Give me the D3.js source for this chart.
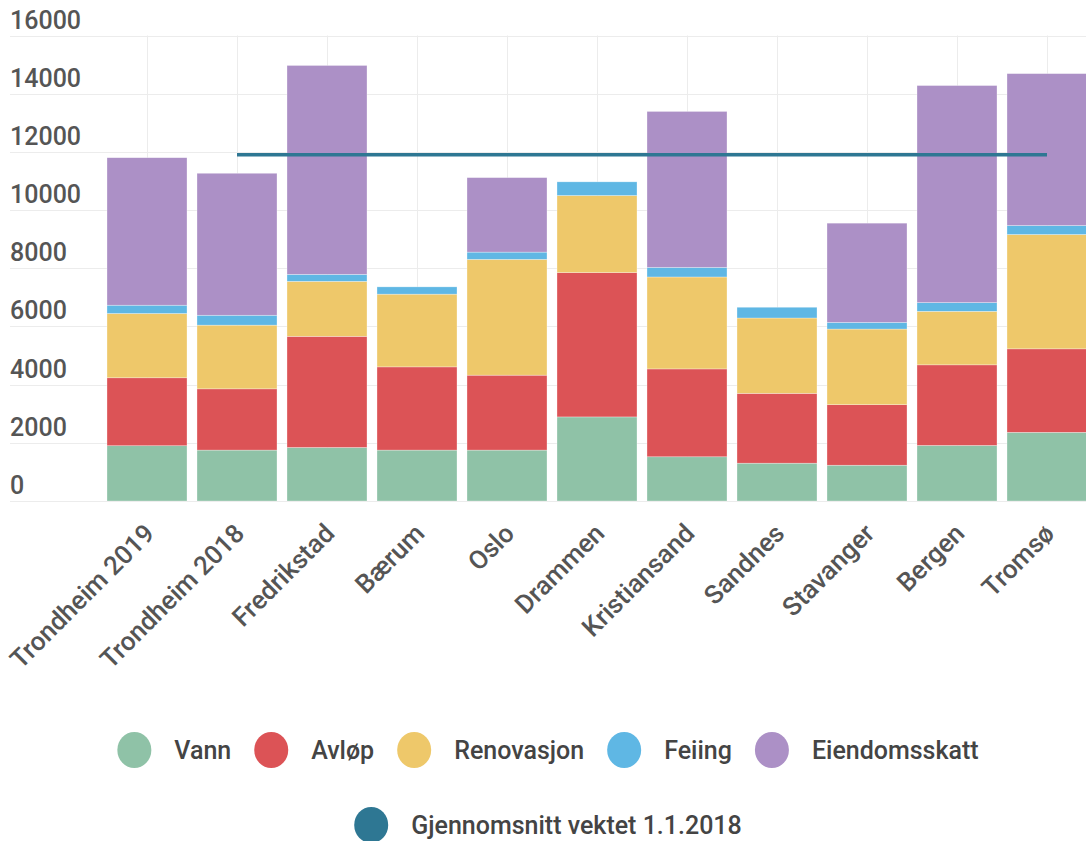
<!DOCTYPE html>
<html>
<head>
<meta charset="utf-8">
<script src="https://cdn.jsdelivr.net/npm/d3@7"></script>
<style>
  body { margin: 0; background: #fff; }
  svg { display: block; font-family: Roboto, "Noto Sans", sans-serif; }
</style>
</head>
<body>
<svg width="1086" height="841"></svg>
<script>
var categories = ["Trondheim 2019", "Trondheim 2018", "Fredrikstad", "Bærum", "Oslo", "Drammen",
                  "Kristiansand", "Sandnes", "Stavanger", "Bergen", "Tromsø"];
var vann          = [1900, 1750, 1840, 1750, 1750, 2890, 1520, 1300, 1230, 1910, 2360];
var avlop         = [2335, 2105, 3820, 2860, 2575, 4960, 3020, 2400, 2080, 2770, 2870];
var renovasjon    = [2210, 2190, 1890, 2500, 3980, 2650, 3160, 2590, 2600, 1840, 3930];
var feiing        = [285, 340, 240, 250, 250, 470, 330, 370, 230, 300, 310];
var eiendomsskatt = [5070, 4880, 7180, 0, 2560, 0, 5360, 0, 3410, 7460, 5220];
var snitt         = [null, 11900, 11900, 11900, 11900, 11900, 11900, 11900, 11900, 11900, 11900];
var yTicks = [0, 2000, 4000, 6000, 8000, 10000, 12000, 14000, 16000];

var seriesNames = ["Vann", "Avløp", "Renovasjon", "Feiing", "Eiendomsskatt"];
var seriesColors = ["#8fc2a7", "#dc5356", "#eec86a", "#5fb7e4", "#ac90c6"];
var lineName = "Gjennomsnitt vektet 1.1.2018";
var lineColor = "#2e7793";

function drawChart()
{
    var svg = d3.select("svg");
    var values = [vann, avlop, renovasjon, feiing, eiendomsskatt];

    // rows for d3.stack
    var rows = categories.map(function (c, i) {
        var r = { kategori: c };
        seriesNames.forEach(function (s, j) { r[s] = values[j][i]; });
        return r;
    });
    var stacked = d3.stack().keys(seriesNames)(rows);

    var xScale = d3.scaleBand()
                    .domain(categories)
                    .range([102, 1092])
                    .paddingInner(0.111)
                    .paddingOuter(0.0555);
    var yScale = d3.scaleLinear()
                    .domain([0, 16000])
                    .range([501, 35.5]);

    // grid
    var grid = svg.append("g");
    grid.selectAll("line.h")
        .data(yTicks)
        .enter()
        .append("line")
        .attr("x1", 10).attr("x2", 1086)
        .attr("y1", function (d) { return Math.round(yScale(d)) + 0.5; })
        .attr("y2", function (d) { return Math.round(yScale(d)) + 0.5; })
        .attr("stroke", "#ececec");
    grid.selectAll("line.v")
        .data(categories)
        .enter()
        .append("line")
        .attr("x1", function (d) { return Math.round(xScale(d) + xScale.bandwidth() / 2) + 0.5; })
        .attr("x2", function (d) { return Math.round(xScale(d) + xScale.bandwidth() / 2) + 0.5; })
        .attr("y1", yScale(16000)).attr("y2", yScale(0))
        .attr("stroke", "#ececec");

    // y labels sit above the grid lines
    svg.append("g")
        .selectAll("text")
        .data(yTicks)
        .enter()
        .append("text")
        .attr("x", 10)
        .attr("y", function (d) { return yScale(d) - 7; })
        .attr("font-size", 25)
        .attr("font-weight", 500)
        .attr("fill", "#555")
        .text(function (d) { return d; });

    // bars
    svg.append("g")
        .selectAll("g")
        .data(stacked)
        .enter()
        .append("g")
        .attr("fill", function (d, i) { return seriesColors[i]; })
        .selectAll("rect")
        .data(function (d) { return d; })
        .enter()
        .append("rect")
        .attr("x", function (d) { return xScale(d.data.kategori); })
        .attr("y", function (d) { return yScale(d[1]); })
        .attr("height", function (d) { return yScale(d[0]) - yScale(d[1]); })
        .attr("width", xScale.bandwidth())
        .attr("stroke", "rgba(255,255,255,0.5)")
        .attr("stroke-width", 0.6);

    // average line
    var line = d3.line()
        .defined(function (d) { return d != null; })
        .x(function (d, i) { return xScale(categories[i]) + xScale.bandwidth() / 2; })
        .y(function (d) { return yScale(d); });
    svg.append("path")
        .attr("d", line(snitt))
        .attr("fill", "none")
        .attr("stroke", lineColor)
        .attr("stroke-width", 3.5);

    // x labels, rotated
    svg.append("g")
        .selectAll("text")
        .data(categories)
        .enter()
        .append("text")
        .attr("transform", function (d) {
            var cx = xScale(d) + xScale.bandwidth() / 2 + 9;
            return "translate(" + cx + ",535) rotate(-45)";
        })
        .attr("text-anchor", "end")
        .attr("font-size", 26)
        .attr("font-weight", 500)
        .attr("fill", "#555")
        .text(function (d) { return d; });

    // legend
    drawLegendRow(svg, seriesNames, seriesColors, 750, 548);
    drawLegendRow(svg, [lineName], [lineColor], 825, 548);
}

function drawLegendRow(svg, names, colors, cy, centerX)
{
    var row = svg.append("g");
    var items = row.selectAll("g")
        .data(names)
        .enter()
        .append("g");
    items.append("ellipse")
        .attr("rx", 17).attr("ry", 18)
        .attr("cy", cy)
        .attr("fill", function (d, i) { return colors[i]; });
    items.append("text")
        .attr("y", cy + 9)
        .attr("font-size", 25)
        .attr("font-weight", 500)
        .attr("fill", "#444")
        .text(function (d) { return d; });

    var x = 0;
    items.each(function () {
        var g = d3.select(this);
        var w = g.select("text").node().getComputedTextLength();
        g.select("ellipse").attr("cx", x + 17);
        g.select("text").attr("x", x + 57);
        x += 57 + w + 23;
    });
    var total = x - 23;
    row.attr("transform", "translate(" + (centerX - total / 2) + ",0)");
}

drawChart();
</script>
</body>
</html>
